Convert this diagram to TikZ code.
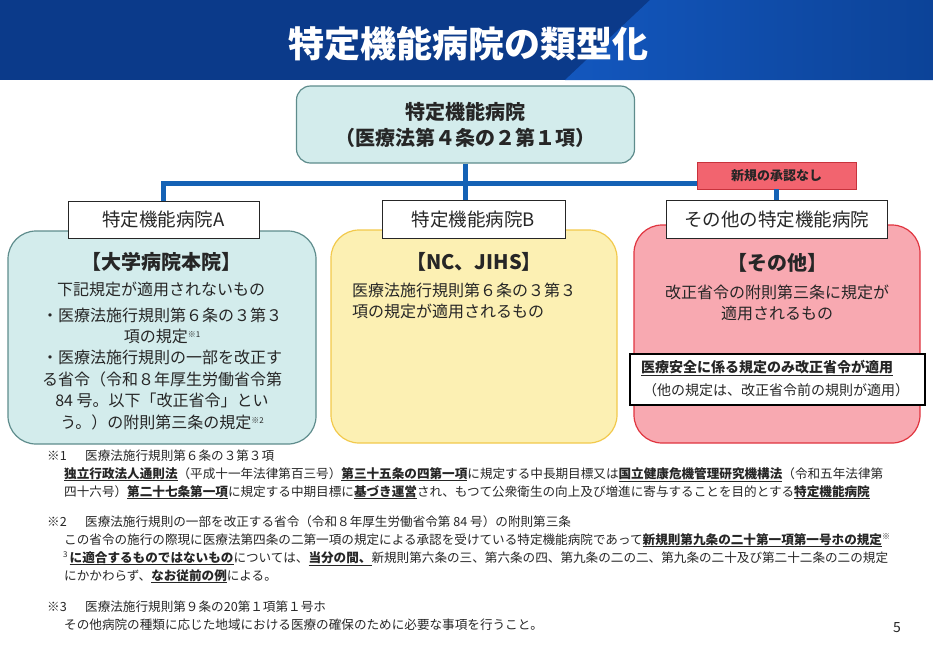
\documentclass[tikz,border=0pt]{standalone}
\usepackage{graphicx}
\usepackage{fontspec}
\setmainfont{Noto Sans CJK JP}
\definecolor{bannerdark}{HTML}{0B3A8A}
\definecolor{bannerlight}{HTML}{1357BE}
\definecolor{bannerright}{HTML}{0C4398}
\definecolor{linkblue}{HTML}{1462B5}
\definecolor{tealfill}{HTML}{D3ECEC}
\definecolor{tealdraw}{HTML}{5E8C8C}
\definecolor{yelfill}{HTML}{FCF0B3}
\definecolor{yeldraw}{HTML}{F2C94C}
\definecolor{pinkfill}{HTML}{F8A9B1}
\definecolor{pinkdraw}{HTML}{E0343F}
\definecolor{redfill}{HTML}{F2646F}
\definecolor{reddraw}{HTML}{C8323C}
\definecolor{txt}{HTML}{262626}
\newcommand\fsz[2]{\fontsize{#1}{#2}\selectfont}
\newcommand\ubf[1]{\underline{\textbf{#1}}}
\newcommand\supnote[1]{\raisebox{5pt}{\fsz{8}{8}#1}}
\tikzset{
  every node/.style={inner sep=0pt, text=txt},
  bigbox/.style={draw, line width=1.2pt, rounded corners=28pt},
  labbox/.style={draw=black!85, fill=white, line width=1pt},
  link/.style={draw=linkblue, line width=5pt},
  body/.style={font=\fsz{16}{21.4}},
  fn/.style={font=\fsz{12.6}{18}, anchor=base west},
}
\begin{document}
\begin{tikzpicture}[x=1pt,y=-1pt]
\useasboundingbox (0,0) rectangle (933,649);
% banner
\fill[bannerdark] (0,0) rectangle (933,80);
\shade[left color=bannerlight, right color=bannerright] (565,80) -- (650,0) -- (933,0) -- (933,80) -- cycle;
\node[text=white] (title) at (468,44) {\fsz{36}{40}\bfseries 特定機能病院の類型化};

% top box
\node[draw=tealdraw, fill=tealfill, line width=1.2pt, rounded corners=14pt,
      minimum width=338pt, minimum height=77pt, align=center, font=\fsz{20}{26}\bfseries]
      (top) at (465.5,124.5) {特定機能病院\\（医療法第４条の２第１項）};

% big boxes
\node[bigbox, draw=tealdraw, fill=tealfill, minimum width=308pt, minimum height=213pt] (boxA) at (162,337.5) {};
\node[bigbox, draw=yeldraw, fill=yelfill, minimum width=286pt, minimum height=213pt] (boxB) at (474,336.5) {};
\node[bigbox, draw=pinkdraw, fill=pinkfill, minimum width=286pt, minimum height=218pt] (boxC) at (777,334) {};

% label boxes
\node[labbox, minimum width=191pt, minimum height=37pt, font=\fsz{18.5}{22}] (labA) at (163.5,219.5) {特定機能病院A};
\node[labbox, minimum width=183pt, minimum height=38pt, font=\fsz{18.5}{22}] (labB) at (473.5,219) {特定機能病院B};
\node[labbox, minimum width=221pt, minimum height=38pt, font=\fsz{18.5}{22}] (labC) at (776.5,219) {その他の特定機能病院};
\node[draw=reddraw, fill=redfill, line width=0.8pt, minimum width=159pt, minimum height=27pt, font=\fsz{13}{16}\bfseries] (nr) at (776.5,175.5) {新規の承認なし};

% connectors
\draw[link] (top.south) -- (top.south |- labB.north);
\draw[link] (labA.north) -- (labA.north |- 0,183) -- (nr.west |- 0,183);
\draw[link] (nr.south) -- (labC.north);

% box A text
\node[font=\fsz{20}{24}\bfseries] (hA) at (161,262) {【大学病院本院】};
\node[body] (tA1) at (161,289) {下記規定が適用されないもの};
\node[body, align=center] (tA2) at (162,368.5) {・医療法施行規則第６条の３第３\\項の規定\supnote{※1}\\・医療法施行規則の一部を改正す\\る省令（令和８年厚生労働省令第\\84 号。以下「改正省令」とい\\う。）の附則第三条の規定\supnote{※2}};

% box B text
\node[font=\fsz{20}{24}\bfseries] (hB) at (474,262) {【NC、JIHS】};
\node[body, align=left, anchor=west] (tB) at (352,301) {医療法施行規則第６条の３第３\\項の規定が適用されるもの};

% box C text
\node[font=\fsz{20}{24}\bfseries] (hC) at (777,263) {【その他】};
\node[body, align=center] (tC) at (777,303) {改正省令の附則第三条に規定が\\適用されるもの};
\node[draw=black, fill=white, line width=2pt, minimum width=295pt, minimum height=51pt] (inC) at (777.5,379.5) {};
\node[font=\fsz{14}{18}\bfseries, anchor=west] (inC1) at (641,368) {\underline{医療安全に係る規定のみ改正省令が適用}};
\node[font=\fsz{14}{18}] (inC2) at (776,390) {（他の規定は、改正省令前の規則が適用）};

% footnotes
\node[fn] (f1h) at (47,460) {\makebox[38pt][l]{※1}医療法施行規則第６条の３第３項};
\node[fn] (f1a) at (64,478) {\ubf{独立行政法人通則法}（平成十一年法律第百三号）\ubf{第三十五条の四第一項}に規定する中長期目標又は\ubf{国立健康危機管理研究機構法}（令和五年法律第};
\node[fn] (f1b) at (64,496) {四十六号）\ubf{第二十七条第一項}に規定する中期目標に\ubf{基づき運営}され、もつて公衆衛生の向上及び増進に寄与することを目的とする\ubf{特定機能病院}};
\node[fn] (f2h) at (47,526) {\makebox[38pt][l]{※2}医療法施行規則の一部を改正する省令（令和８年厚生労働省令第 84 号）の附則第三条};
\node[fn] (f2a) at (64,544) {この省令の施行の際現に医療法第四条の二第一項の規定による承認を受けている特定機能病院であって\ubf{新規則第九条の二十第一項第一号ホの規定}\supnote{※}};
\node[fn] (f2b) at (63,562) {\supnote{3}\,\ubf{に適合するものではないもの}については、\ubf{当分の間、}新規則第六条の三、第六条の四、第九条の二の二、第九条の二十及び第二十二条の二の規定};
\node[fn] (f2c) at (64,580) {にかかわらず、\ubf{なお従前の例}による。};
\node[fn] (f3h) at (47,611) {\makebox[38pt][l]{※3}医療法施行規則第９条の20第１項第１号ホ};
\node[fn] (f3a) at (64,629) {その他病院の種類に応じた地域における医療の確保のために必要な事項を行うこと。};
\node[font=\fsz{14}{16}] (pg) at (897,628) {5};
\end{tikzpicture}
\end{document}
